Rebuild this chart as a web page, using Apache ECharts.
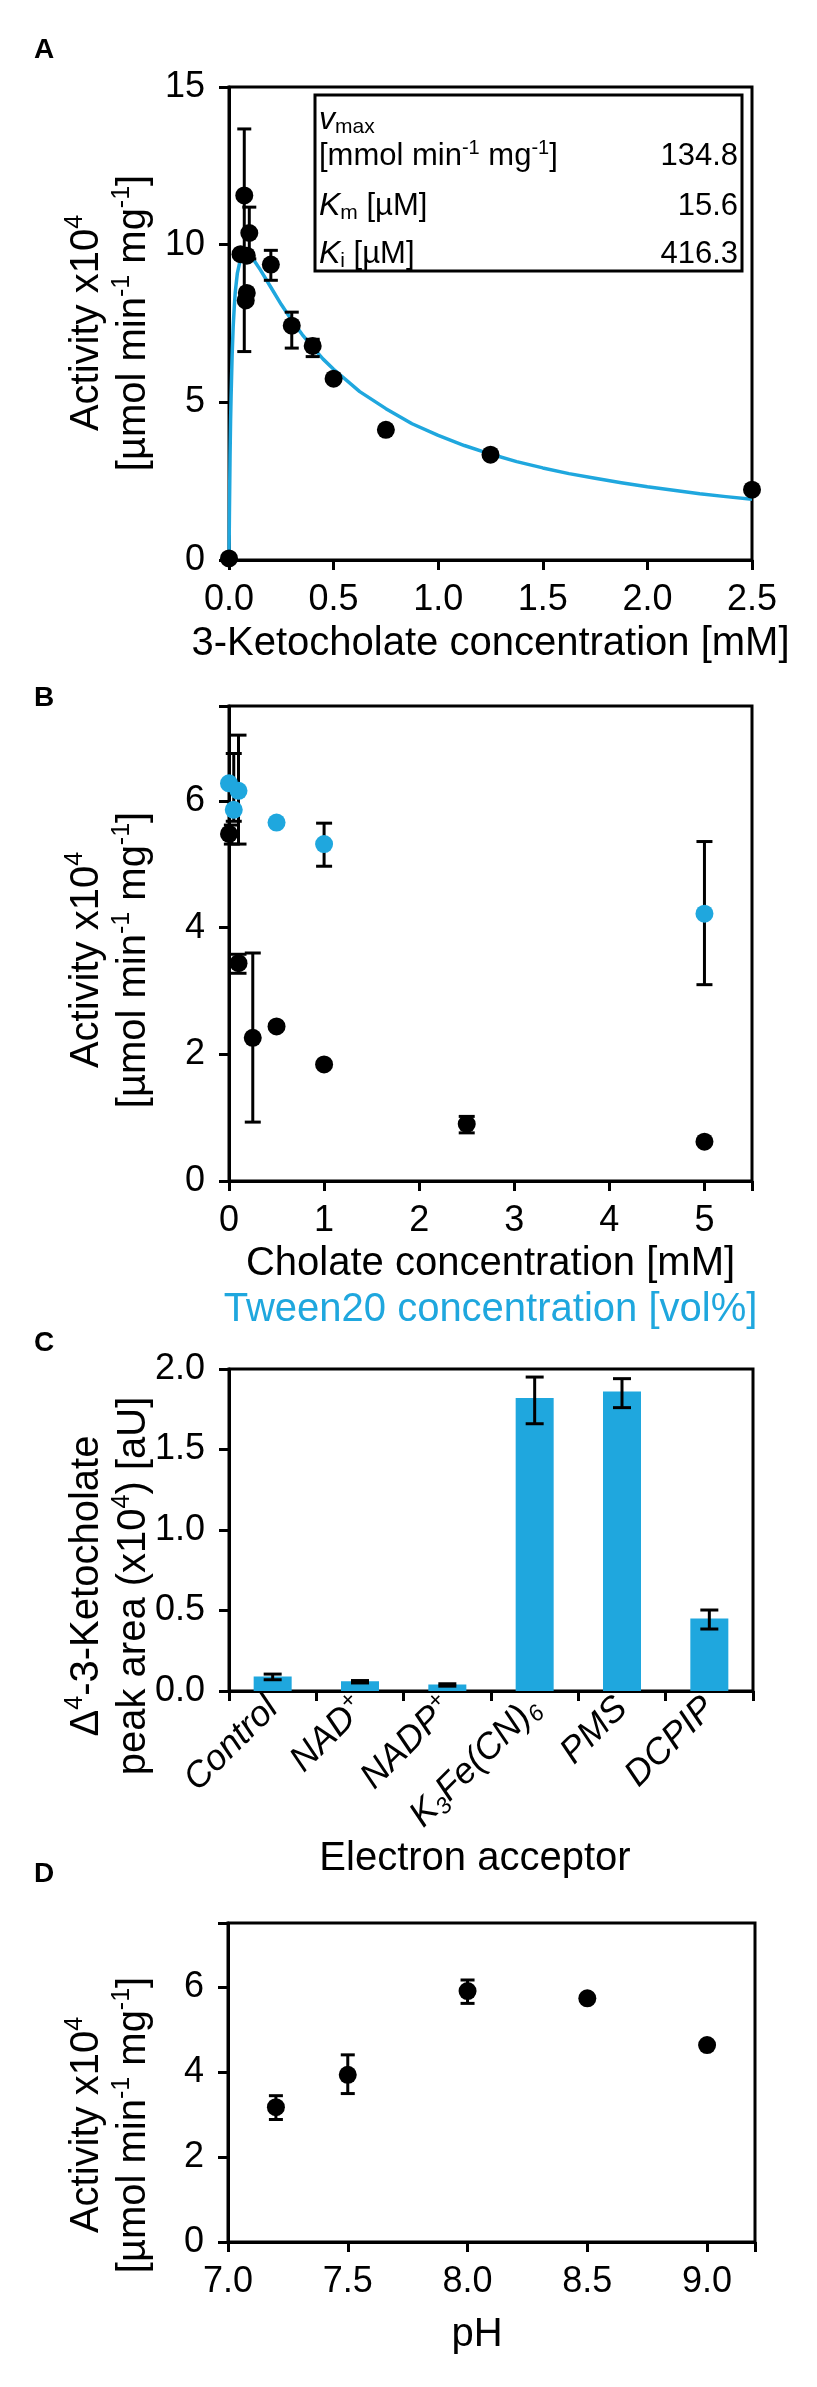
<!DOCTYPE html>
<html><head><meta charset="utf-8">
<script src="https://cdn.jsdelivr.net/npm/echarts/dist/echarts.min.js"></script>
<style>html,body{margin:0;padding:0;background:#fff}#c{width:817px;height:2387px}</style>
</head><body><div id="c"></div>
<script>
const FONT = '"Liberation Sans", Arial, Helvetica, sans-serif';
const BLUE = '#1fa7de';

// ---------- Panel A: 3-Ketocholate kinetics ----------
const aPoints = [[0,0.05],[0.073,11.56],[0.097,10.37],[0.055,9.7],[0.085,9.65],[0.085,8.47],[0.08,8.23],[0.2,9.37],[0.3,7.43],[0.4,6.79],[0.5,5.75],[0.75,4.13],[1.25,3.34],[2.5,2.23]];
const aErr = [[0.073,6.61,13.67],[0.097,9.55,11.19],[0.2,8.87,9.82],[0.3,6.72,7.86],[0.4,6.45,7.0]];
const aCurve = [[0,0],[0.002,1.5],[0.005,3.3],[0.0075,4.4],[0.01,5.2],[0.015,6.5],[0.02,7.4],[0.025,8.0],[0.03,8.5],[0.04,9.1],[0.05,9.4],[0.065,9.65],[0.08,9.72],[0.1,9.65],[0.12,9.5],[0.15,9.2],[0.2,8.65],[0.25,8.1],[0.3,7.6],[0.35,7.15],[0.4,6.75],[0.45,6.37],[0.5,6.05],[0.625,5.34],[0.75,4.8],[0.875,4.32],[1.0,3.95],[1.125,3.63],[1.25,3.36],[1.375,3.12],[1.5,2.92],[1.625,2.74],[1.75,2.59],[1.875,2.45],[2.0,2.32],[2.125,2.21],[2.25,2.1],[2.375,2.01],[2.5,1.93]];
const aParamValues = ['134.8','15.6','416.3'];

// ---------- Panel B: detergent effect ----------
const bCholate = [[0,5.48],[0.1,3.44],[0.25,2.26],[0.5,2.44],[1,1.84],[2.5,0.9],[5,0.62]];
const bCholateErr = [[0.03,5.32,5.62],[0.1,3.28,3.58],[0.25,0.93,3.6],[2.5,0.76,1.02]];
const bTween = [[0,6.28],[0.05,5.86],[0.1,6.16],[0.5,5.66],[1,5.32],[5,4.22]];
const bTweenErr = [[0.05,5.68,6.75],[0.1,5.32,7.04],[1,4.97,5.65],[5,3.1,5.36]];

// ---------- Panel C: electron acceptors ----------
const cCategories = ['Control','NAD+','NADP+','K3Fe(CN)6','PMS','DCPIP'];
const cValues = [0.09,0.06,0.04,1.82,1.86,0.45];
const cErr = [[0,0.07,0.105],[1,0.05,0.065],[2,0.03,0.045],[3,1.66,1.95],[4,1.76,1.94],[5,0.385,0.503]];
const cLabelRich = {'Control':'{n|Control}','NAD+':'{n|NAD}{sup|+}','NADP+':'{n|NADP}{sup|+}','K3Fe(CN)6':'{n|K}{sub|3}{n|Fe(CN)}{sub|6}','PMS':'{n|PMS}','DCPIP':'{n|DCPIP}'};

// ---------- Panel D: pH ----------
const dPH = [7.2,7.5,8.0,8.5,9.0];
const dActivity = [3.17,3.93,5.9,5.73,4.63];
const dErr = [[7.2,2.88,3.44],[7.5,3.49,4.4],[8.0,5.61,6.16]];

const chart = echarts.init(document.getElementById('c'), null, {renderer:'canvas'});

function errRender(cap){
  return function(params, api){
    const x = api.value(0), lo = api.value(1), hi = api.value(2);
    const p1 = api.coord([x, hi]), p2 = api.coord([x, lo]);
    const st = {stroke:'#000', lineWidth:3};
    return {type:'group', children:[
      {type:'line', shape:{x1:p1[0],y1:p1[1],x2:p2[0],y2:p2[1]}, style:st},
      {type:'line', shape:{x1:p1[0]-cap,y1:p1[1],x2:p1[0]+cap,y2:p1[1]}, style:st},
      {type:'line', shape:{x1:p2[0]-cap,y1:p2[1],x2:p2[0]+cap,y2:p2[1]}, style:st}
    ]};
  };
}

const TICK = 36, TITLE = 40;
const axisLine = {show:true, onZero:false, lineStyle:{color:'#000', width:3}};
const axisTick = {show:true, length:10, lineStyle:{color:'#000', width:3}};
const lblBase = {color:'#000', fontSize:TICK, fontFamily:FONT};

function xAx(gi, min, max, interval, fmt, extra){
  return Object.assign({type:'value', gridIndex:gi, min:min, max:max, interval:interval,
    axisLine:axisLine, axisTick:axisTick, splitLine:{show:false},
    axisLabel:Object.assign({}, lblBase, {margin:22, formatter:fmt})}, extra||{});
}
function yAx(gi, min, max, interval, fmt){
  return {type:'value', gridIndex:gi, min:min, max:max, interval:interval,
    axisLine:axisLine, axisTick:axisTick, splitLine:{show:false},
    axisLabel:Object.assign({}, lblBase, {margin:24, formatter:fmt})};
}
const gridBase = {show:true, borderColor:'#000', borderWidth:3, backgroundColor:'transparent', containLabel:false, outerBoundsMode:'none'};

const gMain = {fontSize:TITLE, lineHeight:47, fontFamily:FONT, fill:'#000'};
const gSup = {fontSize:25, lineHeight:25, fontFamily:FONT, fill:'#000', verticalAlign:'top'};
function yTitle(cx, cy, text){
  return {type:'text', x:cx, y:cy, rotation:Math.PI/2, z:10,
    style:{text:text, align:'center', verticalAlign:'middle', textAlign:'center', textVerticalAlign:'middle',
      rich:{t:gMain, sup:gSup}, fill:'#000', fontSize:TITLE, fontFamily:FONT}};
}
function plainText(cx, cy, text, size, color, weight, align){
  return {type:'text', x:cx, y:cy, z:10,
    style:{text:text, align:align||'center', verticalAlign:'middle', textAlign:align||'center', textVerticalAlign:'middle',
      fill:color||'#000', fontSize:size, fontWeight:weight||'normal', fontFamily:FONT}};
}
const iMain = {fontSize:31, lineHeight:36, fontFamily:FONT, fill:'#000'};
const iIt = {fontSize:32, lineHeight:36, fontFamily:FONT, fill:'#000', fontStyle:'italic'};
const iSub = {fontSize:21, lineHeight:21, fontFamily:FONT, fill:'#000', verticalAlign:'bottom'};
const iSup = {fontSize:20, lineHeight:20, fontFamily:FONT, fill:'#000', verticalAlign:'top'};
function insetText(x, y, text, align){
  return {type:'text', x:x, y:y, z:12,
    style:{text:text, align:align, verticalAlign:'middle', textAlign:align, textVerticalAlign:'middle',
      rich:{t:iMain, i:iIt, sub:iSub, sup:iSup}, fill:'#000', fontSize:31, fontFamily:FONT}};
}

const option = {
  backgroundColor:'#fff',
  animation:false,
  grid:[
    Object.assign({left:229, top:87, width:523, height:473}, gridBase),
    Object.assign({left:229, top:706, width:523, height:475}, gridBase),
    Object.assign({left:229, top:1369, width:524, height:322}, gridBase),
    Object.assign({left:228, top:1923, width:527, height:319}, gridBase)
  ],
  xAxis:[
    xAx(0, 0, 2.5, 0.5, v=>v.toFixed(1), {name:'3-Ketocholate concentration [mM]', nameLocation:'middle', nameGap:64,
      nameTextStyle:{color:'#000', fontSize:TITLE, fontFamily:FONT}}),
    xAx(1, 0, 5.5, 1, v=>(v>5?'':String(v)), {name:'{a|Cholate concentration [mM]}\n{b|Tween20 concentration [vol%]}', nameLocation:'middle', nameGap:60,
      nameTextStyle:{rich:{a:{color:'#000', fontSize:TITLE, lineHeight:46, fontFamily:FONT}, b:{color:BLUE, fontSize:TITLE, lineHeight:46, fontFamily:FONT}}}}),
    {type:'category', gridIndex:2, data:cCategories, boundaryGap:true,
      axisLine:axisLine, axisTick:Object.assign({}, axisTick, {alignWithLabel:false}), splitLine:{show:false},
      axisLabel:{rotate:45, margin:12, interval:0, color:'#000', fontFamily:FONT, fontSize:TICK, fontStyle:'italic',
        formatter:v=>cLabelRich[v],
        rich:{n:{color:'#000', fontSize:TICK, fontStyle:'italic', fontFamily:FONT, lineHeight:42},
              sup:{color:'#000', fontSize:23, fontStyle:'italic', fontFamily:FONT, lineHeight:23, verticalAlign:'top'},
              sub:{color:'#000', fontSize:23, fontStyle:'italic', fontFamily:FONT, lineHeight:23, verticalAlign:'bottom'}}}},
    xAx(3, 7.0, 9.2, 0.5, v=>(v>9.05?'':v.toFixed(1)))
  ],
  yAxis:[
    yAx(0, 0, 15, 5, v=>String(v)),
    yAx(1, 0, 7.5, 2, v=>(v>7?'':String(v))),
    yAx(2, 0, 2, 0.5, v=>v.toFixed(1)),
    yAx(3, 0, 7.5, 2, v=>(v>7?'':String(v)))
  ],
  series:[
    {type:'line', xAxisIndex:0, yAxisIndex:0, data:aCurve, showSymbol:false, smooth:false, clip:false,
      lineStyle:{color:BLUE, width:3.5, join:'round'}, z:2},
    {type:'custom', xAxisIndex:0, yAxisIndex:0, data:aErr, renderItem:errRender(7), encode:{x:0, y:[1,2]}, z:3, clip:false},
    {type:'scatter', xAxisIndex:0, yAxisIndex:0, data:aPoints, symbolSize:18, itemStyle:{color:'#000', opacity:1}, z:4, clip:false},

    {type:'custom', xAxisIndex:1, yAxisIndex:1, data:bCholateErr, renderItem:errRender(8), encode:{x:0, y:[1,2]}, z:3, clip:false},
    {type:'custom', xAxisIndex:1, yAxisIndex:1, data:bTweenErr, renderItem:errRender(8), encode:{x:0, y:[1,2]}, z:3, clip:false},
    {type:'scatter', xAxisIndex:1, yAxisIndex:1, data:bCholate, symbolSize:18, itemStyle:{color:'#000', opacity:1}, z:4, clip:false},
    {type:'scatter', xAxisIndex:1, yAxisIndex:1, data:bTween, symbolSize:18, itemStyle:{color:BLUE, opacity:1}, z:5, clip:false},

    {type:'bar', xAxisIndex:2, yAxisIndex:2, data:cValues, barWidth:38, itemStyle:{color:BLUE}, z:2},
    {type:'custom', xAxisIndex:2, yAxisIndex:2, data:cErr, renderItem:errRender(9), encode:{x:0, y:[1,2]}, z:4},

    {type:'custom', xAxisIndex:3, yAxisIndex:3, data:dErr, renderItem:errRender(7), encode:{x:0, y:[1,2]}, z:3},
    {type:'scatter', xAxisIndex:3, yAxisIndex:3, data:dPH.map((p,i)=>[p, dActivity[i]]), symbolSize:18, itemStyle:{color:'#000', opacity:1}, z:4}
  ],
  graphic:[
    plainText(44, 50, 'A', 28, '#000', 'bold'),
    plainText(44, 698, 'B', 28, '#000', 'bold'),
    plainText(44, 1343, 'C', 28, '#000', 'bold'),
    plainText(44, 1874, 'D', 28, '#000', 'bold'),
    yTitle(110, 323, '{t|Activity x10}{sup|4}\n{t|[µmol min}{sup|-1}{t| mg}{sup|-1}{t|]}'),
    yTitle(110, 960, '{t|Activity x10}{sup|4}\n{t|[µmol min}{sup|-1}{t| mg}{sup|-1}{t|]}'),
    yTitle(110, 1586, '{t|Δ}{sup|4}{t|-3-Ketocholate}\n{t|peak area (x10}{sup|4}{t|) [aU]}'),
    yTitle(110, 2125, '{t|Activity x10}{sup|4}\n{t|[µmol min}{sup|-1}{t| mg}{sup|-1}{t|]}'),
    plainText(475, 1859, 'Electron acceptor', TITLE),
    plainText(477, 2335, 'pH', TITLE),
    {type:'rect', shape:{x:315, y:95, width:427, height:176}, style:{fill:'#fff', stroke:'#000', lineWidth:3}, z:11},
    insetText(319, 120, '{i|v}{sub|max}', 'left'),
    insetText(319, 156, '{t|[mmol min}{sup|-1}{t| mg}{sup|-1}{t|]}', 'left'),
    insetText(319, 206, '{i|K}{sub|m}{t| [µM]}', 'left'),
    insetText(319, 254, '{i|K}{sub|i}{t| [µM]}', 'left'),
    insetText(738, 156, '{t|' + aParamValues[0] + '}', 'right'),
    insetText(738, 206, '{t|' + aParamValues[1] + '}', 'right'),
    insetText(738, 254, '{t|' + aParamValues[2] + '}', 'right')
  ]
};
chart.setOption(option);
</script></body></html>
